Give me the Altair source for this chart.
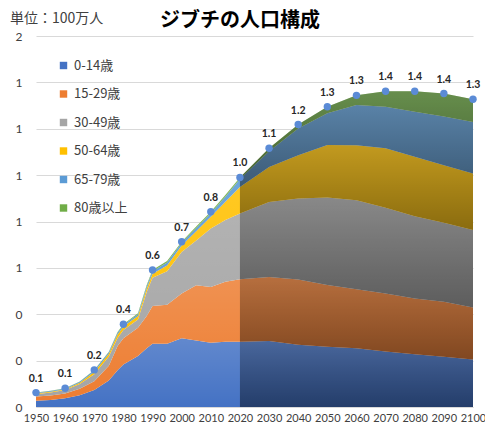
import altair as alt
import pandas as pd

years = [1950, 1955, 1960, 1965, 1970, 1975, 1978, 1980, 1985, 1988, 1990, 1995,
         2000, 2005, 2010, 2015, 2020, 2030, 2040, 2050, 2060, 2070, 2080, 2090, 2100]
groups = ["0-14歳", "15-29歳", "30-49歳", "50-64歳", "65-79歳", "80歳以上"]
colors = ["#4472C4", "#ED7D31", "#A5A5A5", "#FFC000", "#5B9BD5", "#70AD47"]

age_0_14 = [0.027, 0.030, 0.038, 0.051, 0.073, 0.114, 0.159, 0.183, 0.220, 0.253, 0.273, 0.273,
            0.297, 0.287, 0.277, 0.281, 0.281, 0.285, 0.268, 0.260, 0.253, 0.239, 0.228, 0.217, 0.205]
age_15_29 = [0.018, 0.020, 0.020, 0.028, 0.038, 0.064, 0.104, 0.114, 0.122, 0.139, 0.163, 0.168,
             0.193, 0.238, 0.241, 0.259, 0.270, 0.276, 0.282, 0.266, 0.255, 0.251, 0.240, 0.237, 0.224]
age_30_49 = [0.010, 0.012, 0.015, 0.020, 0.030, 0.040, 0.035, 0.035, 0.035, 0.104, 0.121, 0.144,
             0.178, 0.193, 0.252, 0.266, 0.283, 0.323, 0.349, 0.377, 0.384, 0.369, 0.355, 0.341, 0.334]
age_50_64 = [0.004, 0.004, 0.004, 0.006, 0.011, 0.012, 0.015, 0.015, 0.015, 0.015, 0.018, 0.025,
             0.028, 0.040, 0.050, 0.079, 0.115, 0.151, 0.187, 0.227, 0.237, 0.257, 0.256, 0.248, 0.244]
age_65_79 = [0.002, 0.003, 0.003, 0.004, 0.006, 0.006, 0.007, 0.007, 0.008, 0.010, 0.010, 0.013,
             0.012, 0.014, 0.016, 0.022, 0.034, 0.068, 0.115, 0.137, 0.173, 0.179, 0.194, 0.210, 0.222]
age_80_plus = [0.001, 0.001, 0.001, 0.001, 0.002, 0.002, 0.003, 0.003, 0.004, 0.005, 0.006, 0.007,
               0.005, 0.006, 0.006, 0.007, 0.007, 0.013, 0.017, 0.028, 0.042, 0.067, 0.089, 0.099, 0.098]

x_ticks = [1950, 1960, 1970, 1980, 1990, 2000, 2010, 2020, 2030, 2040, 2050, 2060, 2070, 2080, 2090, 2100]
y_ticks = [0, 0.2, 0.4, 0.6, 0.8, 1.0, 1.2, 1.4, 1.6]

series = [age_0_14, age_15_29, age_30_49, age_50_64, age_65_79, age_80_plus]
rows = []
for gi, (g, vals) in enumerate(zip(groups, series)):
    for yr, v in zip(years, vals):
        rows.append({"year": yr, "group": g, "order": gi, "value": v})
df = pd.DataFrame(rows)

base = alt.Chart(df)

x_axis = alt.Axis(values=x_ticks, format="d", title=None, grid=False, ticks=False,
                  domainColor="#D9D9D9", labelFont="Lato", labelFontSize=11,
                  labelColor="#404040", labelPadding=5, labelFlush=False, labelOverlap=False)
y_axis = alt.Axis(values=y_ticks, format=".0f", title=None, grid=True, gridColor="#D9D9D9",
                  domain=False, ticks=False, labelPadding=14, labelFont="Lato",
                  labelFontSize=12, labelColor="#404040")
x_enc = alt.X("year:Q", scale=alt.Scale(domain=[1950, 2100], nice=False, zero=False), axis=x_axis)
y_scale = alt.Scale(domain=[0, 1.6], nice=False)

area = base.mark_area(opacity=1).encode(
    x=x_enc,
    y=alt.Y("value:Q", stack="zero", scale=y_scale, axis=y_axis),
    color=alt.Color("group:N", sort=groups, scale=alt.Scale(domain=groups, range=colors),
                    legend=alt.Legend(title=None, orient="none", legendX=21, legendY=23,
                                      symbolType="square", symbolSize=55, symbolStrokeWidth=0,
                                      labelFont="Noto Sans CJK JP", labelFontSize=13,
                                      labelColor="#404040", rowPadding=14.5, labelOffset=4,
                                      padding=0)),
    order=alt.Order("order:Q", sort="ascending"),
)

stacked = base.transform_window(
    top="sum(value)", groupby=["year"], sort=[alt.SortField("order", order="ascending")]
).transform_calculate(low="datum.top - datum.value")

light = alt.Gradient(gradient="linear", x1=0, y1=0, x2=0, y2=1,
                     stops=[alt.GradientStop(color="rgba(255,255,255,0.16)", offset=0),
                            alt.GradientStop(color="rgba(255,255,255,0)", offset=1)])
dark = alt.Gradient(gradient="linear", x1=0, y1=0, x2=0, y2=1,
                    stops=[alt.GradientStop(color="rgba(0,0,0,0.24)", offset=0),
                           alt.GradientStop(color="rgba(0,0,0,0.46)", offset=1)])

shade_layers = []
for g in groups:
    shade_layers.append(
        stacked.transform_filter(alt.datum.group == g).mark_area(color=light).encode(
            x=x_enc, y=alt.Y("top:Q", scale=y_scale, axis=y_axis), y2="low:Q")
    )
for g in groups:
    shade_layers.append(
        stacked.transform_filter(alt.datum.group == g).transform_filter("datum.year >= 2020")
        .mark_area(color=dark).encode(
            x=x_enc, y=alt.Y("top:Q", scale=y_scale, axis=y_axis), y2="low:Q")
    )

totals = base.transform_filter("datum.year % 10 == 0").transform_aggregate(
    total="sum(value)", groupby=["year"]
)

points = totals.mark_point(filled=True, size=55, color="#5B8BD6", opacity=1).encode(
    x=x_enc, y=alt.Y("total:Q", scale=y_scale, axis=y_axis)
)

labels = totals.mark_text(dy=-9, baseline="bottom", font="Lato", fontWeight="bold",
                          fontSize=10.5, color="#262626").encode(
    x=x_enc, y=alt.Y("total:Q", scale=y_scale, axis=y_axis),
    text=alt.Text("total:Q", format=".1f")
)

title = alt.Chart(pd.DataFrame({"t": ["ジブチの人口構成"]})).mark_text(
    font="Noto Sans CJK JP", fontWeight="bold", fontSize=20, color="#000000",
    align="center", baseline="middle"
).encode(text="t:N", x=alt.value(204), y=alt.value(-15))

unit = alt.Chart(pd.DataFrame({"t": ["単位：100万人"]})).mark_text(
    font="Noto Sans CJK JP", fontSize=14, color="#404040", align="left", baseline="middle"
).encode(text="t:N", x=alt.value(-26), y=alt.value(-17))

chart = alt.layer(area, *shade_layers, points, labels, title, unit).properties(
    width=437, height=371, autosize="none",
    padding={"left": 28, "top": 28, "right": 12, "bottom": 17},
).configure_view(stroke=None)

chart.save("out.html", embed_options={"renderer": "svg", "actions": False})
